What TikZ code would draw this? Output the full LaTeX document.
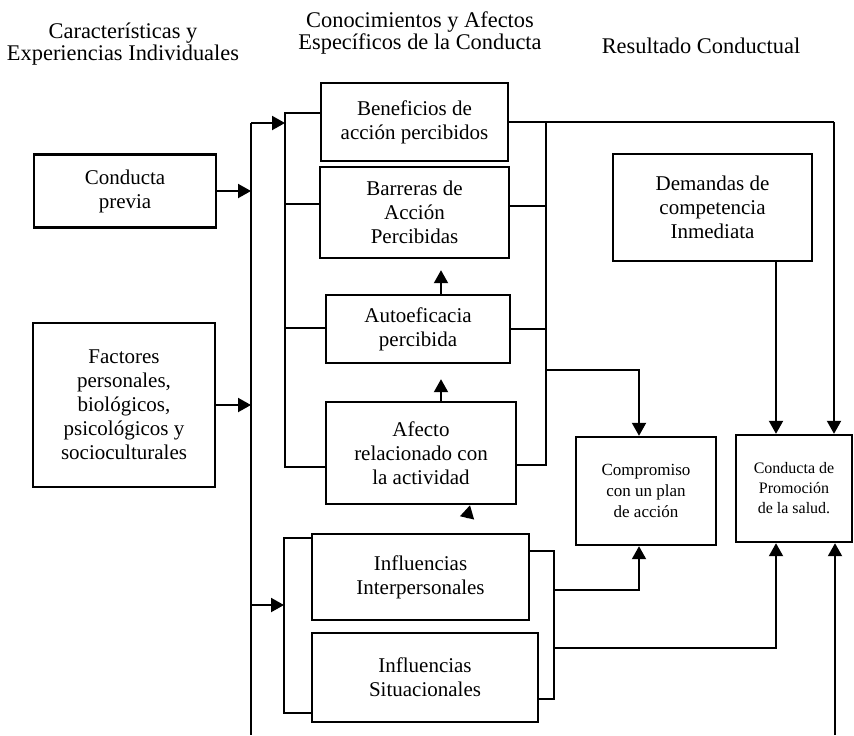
\documentclass[tikz,border=0pt]{standalone}
\usepackage{fontspec}
\setmainfont{Liberation Serif}
\usetikzlibrary{arrows.meta}

\tikzset{
  caja/.style={draw, line width=1.2pt, align=center, inner sep=0pt,
    font=\fontsize{10.5}{12}\selectfont},
  cajachica/.style={caja, font=\fontsize{8.5}{10.5}\selectfont},
  titulo/.style={align=center, font=\fontsize{11.2}{11}\selectfont},
  flecha/.style={-{Triangle[length=6.5pt,width=7pt]}}
}

\begin{document}
\begin{tikzpicture}[x=0.5pt,y=-0.5pt,line width=1pt]
\useasboundingbox (0,0) rectangle (854,735);

% encabezados
\node[titulo] (encIzq) at (123,44) {Características y\\Experiencias Individuales};
\node[titulo] (encCen) at (420,33) {Conocimientos y Afectos\\Específicos de la Conducta};
\node[titulo] (encDer) at (701,46) {Resultado Conductual};

% cajas
\node[caja, minimum width=91pt, minimum height=36.5pt] (previa) at (125,191) {Conducta\\previa};
\node[caja, minimum width=91pt, minimum height=82pt] (factores) at (124,405) {Factores\\personales,\\biológicos,\\psicológicos y\\socioculturales};
\node[caja, minimum width=93.5pt, minimum height=39pt] (beneficios) at (414.5,122) {Beneficios de\\acción percibidos};
\node[caja, minimum width=94.5pt, minimum height=45.5pt] (barreras) at (414.5,212.5) {Barreras de\\Acción\\Percibidas};
\node[caja, minimum width=92pt, minimum height=34pt] (autoef) at (418,329) {Autoeficacia\\percibida};
\node[caja, minimum width=95pt, minimum height=51pt] (afecto) at (421,453) {Afecto\\relacionado con\\la actividad};
\node[caja, minimum width=108.5pt, minimum height=43pt] (interp) at (420.5,577) {Influencias\\Interpersonales};
\node[caja, minimum width=113pt, minimum height=44.5pt] (situ) at (425,677.5) {Influencias\\Situacionales};
\node[caja, minimum width=99.5pt, minimum height=53.5pt] (demandas) at (712.5,207.5) {Demandas de\\competencia\\Inmediata};
\node[cajachica, minimum width=70pt, minimum height=54pt] (compromiso) at (646,491) {Compromiso\\con un plan\\de acción};
\node[cajachica, minimum width=58pt, minimum height=53.5pt, font=\fontsize{8}{10}\selectfont] (conducta) at (794,488.5) {Conducta de\\Promoción\\de la salud.};

% puntos de union
\coordinate (busT) at (251,123);
\coordinate (busB) at (251,735);
\coordinate (li1) at (285,113);
\coordinate (li2) at (285,204);
\coordinate (li3) at (285,328);
\coordinate (li4) at (285,467);
\coordinate (lj1) at (284,538);
\coordinate (lj2) at (284,713);
\coordinate (lj3) at (284,605);
\coordinate (rj1) at (546,122);
\coordinate (rj2) at (546,206);
\coordinate (rj3) at (546,329);
\coordinate (rj4) at (546,465);
\coordinate (rj5) at (546,370);
\coordinate (rk1) at (554,551);
\coordinate (rk2) at (554,699);
\coordinate (rk3) at (554,590);
\coordinate (rk4) at (554,648);
\coordinate (esq) at (834,122);
\coordinate (fa) at (441,0);
\coordinate (cx) at (639,0);
\coordinate (dx) at (776,0);
\coordinate (ab) at (835,735);
\coordinate (pa) at (467,518);
\coordinate (pb) at (470,0);

% columna izquierda
\draw (busT) -- (busB);
\draw[flecha] (previa.east) -- (previa.east -| busT);
\draw[flecha] (factores.east) -- (factores.east -| busT);
\draw[flecha] (busT) -- (busT -| li1);
\draw[flecha] (lj3 -| busT) -- (lj3);

% llaves izquierdas
\draw (beneficios.west |- li1) -- (li1) -- (li4) -- (afecto.west |- li4);
\draw (li2) -- (barreras.west |- li2);
\draw (li3) -- (autoef.west |- li3);
\draw (interp.west |- lj1) -- (lj1) -- (lj2) -- (situ.west |- lj2);

% flechas internas
\draw[flecha, shorten >=5.5pt] (autoef.north -| fa) -- (barreras.south -| fa);
\draw[flecha, shorten >=7.5pt] (afecto.north -| fa) -- (autoef.south -| fa);
\draw[flecha] (pa) -- (afecto.south -| pb);

% llaves derechas
\draw (beneficios.east) -- (esq);
\draw (rj1) -- (rj4) -- (afecto.east |- rj4);
\draw (barreras.east |- rj2) -- (rj2);
\draw (autoef.east |- rj3) -- (rj3);
\draw (interp.east |- rk1) -- (rk1) -- (rk2) -- (situ.east |- rk2);

% hacia resultados
\draw[flecha] (rj5) -| (compromiso.north -| cx);
\draw[flecha] (rk3) -| (compromiso.south -| cx);
\draw[flecha] (rk4) -| (conducta.south -| dx);
\draw[flecha] (esq) -- (conducta.north -| esq);
\draw[flecha] (demandas.south -| dx) -- (conducta.north -| dx);
\draw[flecha] (ab) -- (conducta.south -| ab);

\end{tikzpicture}
\end{document}
